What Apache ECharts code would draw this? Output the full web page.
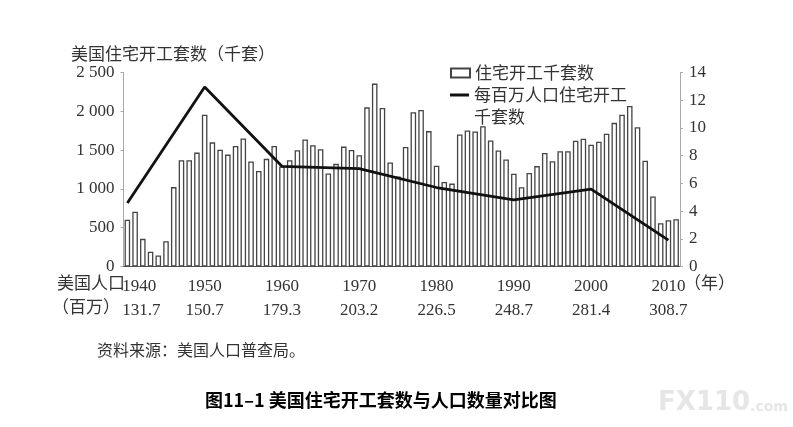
<!DOCTYPE html>
<html>
<head>
<meta charset="utf-8">
<script src="https://cdn.jsdelivr.net/npm/echarts@6/dist/echarts.min.js"></script>
<style>
  html, body { margin: 0; padding: 0; background: #fff; }
  #main { width: 793px; height: 427px; }
</style>
</head>
<body>
<div id="main"></div>
<script>
var dom = document.getElementById('main');
var myChart = echarts.init(dom);

// years on the x axis, 1940 - 2011
var years = [];
for (var yr = 1940; yr <= 2011; yr++) years.push(String(yr));

// housing starts, thousands
var starts = [603, 706, 356, 191, 142, 326, 1023, 1370, 1370, 1468,
  1957, 1600, 1506, 1442, 1553, 1651, 1353, 1230, 1387, 1553,
  1290, 1370, 1498, 1638, 1562, 1511, 1200, 1323, 1545, 1502,
  1434, 2051, 2357, 2042, 1340, 1160, 1540, 1987, 2017, 1745,
  1298, 1089, 1068, 1702, 1753, 1740, 1808, 1625, 1494, 1379,
  1196, 1021, 1204, 1294, 1464, 1357, 1485, 1485, 1621, 1647,
  1570, 1608, 1710, 1851, 1957, 2068, 1796, 1362, 902, 557,
  596, 608];

// census years, population (millions) and starts per million people
var censusYears = ['1940', '1950', '1960', '1970', '1980', '1990', '2000', '2010'];
var popLabels = ['131.7', '150.7', '179.3', '203.2', '226.5', '248.7', '281.4', '308.7'];
var perMillion = [4.58, 12.95, 7.23, 7.06, 5.70, 4.80, 5.58, 1.90];

var leftTicks = [0, 500, 1000, 1500, 2000, 2500];
var rightTicks = [0, 2, 4, 6, 8, 10, 12, 14];

var barName = '住宅开工千套数';
var lineName = '每百万人口住宅开工千套数';

var lineData = years.map(function (y) {
  var k = censusYears.indexOf(y);
  return k < 0 ? null : perMillion[k];
});

var cjk = 'Noto Sans CJK SC';
var serif = 'Liberation Serif';
var txt = '#333';

option = {
  animation: false,
  backgroundColor: '#fff',
  title: [
    {
      text: '美国住宅开工套数（千套）',
      left: 66, top: 40,
      textStyle: { fontFamily: cjk, fontSize: 17, fontWeight: 'normal', color: txt }
    },
    {
      text: '资料来源：美国人口普查局。',
      left: 92, top: 337,
      textStyle: { fontFamily: cjk, fontSize: 16, fontWeight: 'normal', color: txt }
    },
    {
      text: '图11–1 美国住宅开工套数与人口数量对比图',
      left: 200, top: 386,
      textStyle: { fontFamily: cjk, fontSize: 18, fontWeight: 'bold', color: '#000' }
    }
  ],
  legend: [
    {
      data: [{ name: barName, icon: 'rect' }],
      left: 450, top: 62, padding: 0,
      itemWidth: 19, itemHeight: 9,
      textStyle: { fontFamily: cjk, fontSize: 17, color: txt, lineHeight: 22 }
    },
    {
      // blank first line keeps the icon level with the first text line
      data: [{ name: lineName, icon: 'rect' }],
      left: 450, top: 62, padding: 0,
      itemWidth: 19, itemHeight: 3,
      formatter: function () { return ' \n每百万人口住宅开工\n千套数'; },
      textStyle: { fontFamily: cjk, fontSize: 17, color: txt, lineHeight: 22 }
    }
  ],
  grid: { left: 123.5, right: 113, top: 72.5, bottom: 160.5 },
  xAxis: {
    type: 'category',
    data: years,
    boundaryGap: true,
    axisLine: { lineStyle: { color: '#555', width: 1 } },
    axisTick: { interval: 0, length: 4, lineStyle: { color: '#555' } },
    axisLabel: {
      interval: 0,
      margin: 8,
      formatter: function (v) {
        var k = censusYears.indexOf(v);
        if (k < 0) return '';
        var s = k === 0 ? '0' : '';
        return '{y' + s + '|' + v + '}\n{p' + s + '|' + popLabels[k] + '}';
      },
      rich: {
        y: { fontFamily: serif, fontSize: 17, color: txt, lineHeight: 24 },
        p: { fontFamily: serif, fontSize: 17, color: txt, lineHeight: 24 },
        y0: { fontFamily: serif, fontSize: 17, color: txt, lineHeight: 24, padding: [0, 0, 0, 24] },
        p0: { fontFamily: serif, fontSize: 17, color: txt, lineHeight: 24, padding: [0, 0, 0, 28] }
      }
    }
  },
  yAxis: [
    {
      type: 'value',
      min: leftTicks[0], max: leftTicks[leftTicks.length - 1], interval: 500,
      splitLine: { show: false },
      axisLine: { show: true, lineStyle: { color: '#aaa' } },
      axisTick: { show: true, length: 3, lineStyle: { color: '#aaa' } },
      axisLabel: {
        margin: 9,
        fontFamily: serif, fontSize: 17, color: txt,
        formatter: function (v) { return String(v).replace(/\B(?=(\d{3})+(?!\d))/g, ' '); }
      }
    },
    {
      type: 'value',
      min: rightTicks[0], max: rightTicks[rightTicks.length - 1], interval: 2,
      splitLine: { show: false },
      axisLine: { show: true, lineStyle: { color: '#aaa' } },
      axisTick: { show: true, length: 3, lineStyle: { color: '#aaa' } },
      axisLabel: { margin: 9, fontFamily: serif, fontSize: 17, color: txt }
    }
  ],
  series: [
    {
      name: barName,
      type: 'bar',
      data: starts,
      barCategoryGap: '28%',
      itemStyle: { color: '#fff', borderColor: '#444', borderWidth: 1.3 }
    },
    {
      name: lineName,
      type: 'line',
      yAxisIndex: 1,
      data: lineData,
      connectNulls: true,
      symbol: 'none',
      lineStyle: { color: '#111', width: 2.8 },
      itemStyle: { color: '#111' }
    }
  ],
  graphic: [
    {
      type: 'text', left: 57, top: 274,
      style: { text: '美国人口', font: '17px "Noto Sans CJK SC"', fill: txt }
    },
    {
      type: 'text', left: 52, top: 298,
      style: { text: '（百万）', font: '17px "Noto Sans CJK SC"', fill: txt }
    },
    {
      type: 'text', left: 684, top: 274,
      style: { text: '（年）', font: '17px "Noto Sans CJK SC"', fill: txt }
    },
    {
      type: 'text', left: 658, top: 390,
      style: {
        text: '{a|FX110}{b|.com}',
        rich: {
          a: { fontFamily: 'DejaVu Sans', fontWeight: 'bold', fontSize: 26, fill: '#e6e6e6' },
          b: { fontFamily: 'DejaVu Sans', fontWeight: 'bold', fontSize: 14, fill: '#e6e6e6', padding: [8, 0, 0, 0] }
        }
      }
    }
  ]
};

if (option && typeof option === 'object') {
  myChart.setOption(option, true);
}
</script>
</body>
</html>
